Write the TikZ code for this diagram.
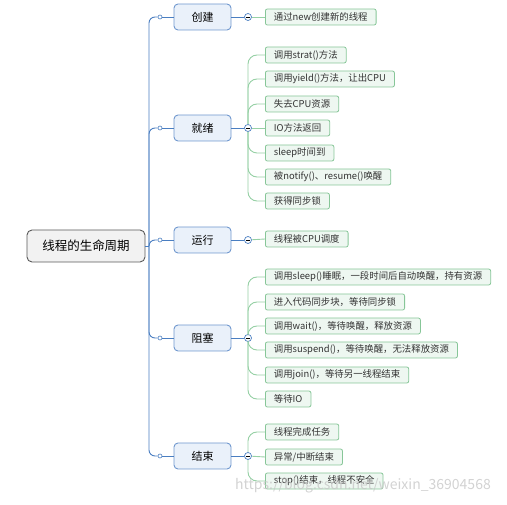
\documentclass[tikz,border=0pt]{standalone}
\usepackage{fontspec}
\setmainfont{Noto Sans CJK SC}
\usetikzlibrary{positioning}
\definecolor{trunkblue}{RGB}{74,126,193}
\definecolor{stateborder}{RGB}{112,152,206}
\definecolor{statefill}{RGB}{234,241,250}
\definecolor{leafborder}{RGB}{135,198,152}
\definecolor{leaffill}{RGB}{238,247,241}
\definecolor{leafline}{RGB}{150,208,165}

\begin{document}
\begin{tikzpicture}[
  x=1pt, y=-1pt,
  root/.style={rounded corners=5pt, draw=black!65, fill=black!5, line width=0.9pt, minimum width=118pt, minimum height=32pt, font=\fontsize{12.5}{14}\selectfont},
  state/.style={rounded corners=4pt, draw=stateborder, fill=statefill, line width=0.9pt, minimum width=57pt, minimum height=26pt, font=\fontsize{11}{13}\selectfont},
  leaf/.style={rounded corners=2pt, draw=leafborder, fill=leaffill, line width=0.8pt, anchor=west, minimum height=16pt, inner xsep=8.5pt, inner ysep=0pt, text=black!80, font=\fontsize{9.4}{11}\selectfont},
  ldot/.style={circle, draw=trunkblue, fill=white, line width=0.6pt, inner sep=0pt, minimum size=4pt},
  rdot/.style={circle, draw=trunkblue, fill=white, line width=0.7pt, inner sep=0pt, minimum size=7pt},
  trunk/.style={draw=trunkblue, line width=0.9pt, rounded corners=6pt},
  twig/.style={draw=leafline, line width=0.9pt, rounded corners=9pt}
]
\useasboundingbox (0,0) rectangle (507,505);

% racine + etats
\node[root]  (root)   at (86,246)    {线程的生命周期};
\node[state] (create) at (202.5,17)  {创建};
\node[state] (ready)  at (202.5,128) {就绪};
\node[state] (run)    at (202.5,240) {运行};
\node[state] (block)  at (202.5,338) {阻塞};
\node[state] (dead)   at (202.5,456) {结束};
\coordinate (tk) at (149,246);

% petits ronds
\node[ldot] (lcreate) at (160,17)  {};
\node[ldot] (lready)  at (160,128) {};
\node[ldot] (lrun)    at (160,240) {};
\node[ldot] (lblock)  at (160,338) {};
\node[ldot] (ldead)   at (160,456) {};
\node[rdot] (rcreate) at (248,17)  {\rule{3.6pt}{0.9pt}};
\node[rdot] (rready)  at (248,128) {\rule{3.6pt}{0.9pt}};
\node[rdot] (rrun)    at (248,240) {\rule{3.6pt}{0.9pt}};
\node[rdot] (rblock)  at (248,338) {\rule{3.6pt}{0.9pt}};
\node[rdot] (rdead)   at (248,456) {\rule{3.6pt}{0.9pt}};

% feuilles
\node[leaf] (c1) at (265,17)  {通过new创建新的线程};
\node[leaf] (r1) at (265,55)  {调用strat()方法};
\node[leaf] (r2) at (265,79)  {调用yield()方法，让出CPU};
\node[leaf] (r3) at (265,104) {失去CPU资源};
\node[leaf] (r4) at (265,128) {IO方法返回};
\node[leaf] (r5) at (265,153) {sleep时间到};
\node[leaf] (r6) at (265,177) {被notify()、resume()唤醒};
\node[leaf] (r7) at (265,201) {获得同步锁};
\node[leaf] (u1) at (265,239) {线程被CPU调度};
\node[leaf] (b1) at (265,277) {调用sleep()睡眠，一段时间后自动唤醒，持有资源};
\node[leaf] (b2) at (265,302) {进入代码同步块，等待同步锁};
\node[leaf] (b3) at (265,326) {调用wait()，等待唤醒，释放资源};
\node[leaf] (b4) at (265,350) {调用suspend()，等待唤醒，无法释放资源};
\node[leaf] (b5) at (265,375) {调用join()，等待另一线程结束};
\node[leaf] (b6) at (265,399) {等待IO};
\node[leaf] (e1) at (265,432) {线程完成任务};
\node[leaf] (e2) at (265,457) {异常/中断结束};
\node[leaf] (e3) at (265,481) {stop()结束，线程不安全};

% tronc bleu
\draw[trunk] (root.east) -- (tk);
\draw[trunk] (tk) |- (lcreate);
\draw[trunk] (tk) |- (lready);
\draw[trunk] (tk) |- (lrun);
\draw[trunk] (tk) |- (lblock);
\draw[trunk] (tk) |- (ldead);
\draw[trunk] (lcreate) -- (create);
\draw[trunk] (lready) -- (ready);
\draw[trunk] (lrun) -- (run);
\draw[trunk] (lblock) -- (block);
\draw[trunk] (ldead) -- (dead);
\draw[trunk] (create) -- (rcreate);
\draw[trunk] (ready) -- (rready);
\draw[trunk] (run) -- (rrun);
\draw[trunk] (block) -- (rblock);
\draw[trunk] (dead) -- (rdead);

% branches vertes
\draw[twig] (rcreate) -- (c1);
\draw[twig] (rready) |- (r1.west);
\draw[twig] (rready) |- (r2.west);
\draw[twig] (rready) |- (r3.west);
\draw[twig] (rready) -- (r4.west);
\draw[twig] (rready) |- (r5.west);
\draw[twig] (rready) |- (r6.west);
\draw[twig] (rready) |- (r7.west);
\draw[twig] (rrun) -- (u1.west);
\draw[twig] (rblock) |- (b1.west);
\draw[twig] (rblock) |- (b2.west);
\draw[twig] (rblock) |- (b3.west);
\draw[twig] (rblock) |- (b4.west);
\draw[twig] (rblock) |- (b5.west);
\draw[twig] (rblock) |- (b6.west);
\draw[twig] (rdead) |- (e1.west);
\draw[twig] (rdead) -- (e2.west);
\draw[twig] (rdead) |- (e3.west);

% filigrane
\node[text=black!22, opacity=0.8, font=\fontsize{14}{16}\selectfont] (wm) at (363,486) {https://blog.csdn.net/weixin\_36904568};
\end{tikzpicture}
\end{document}
